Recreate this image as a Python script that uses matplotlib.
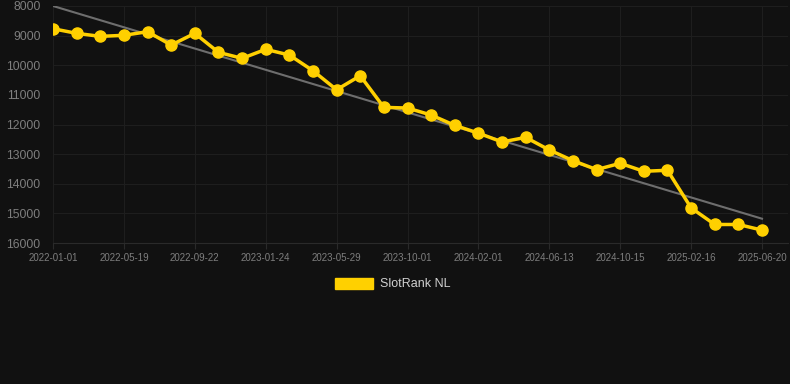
import matplotlib.pyplot as plt
from matplotlib.patches import Patch

dates = ['2022-01-01', '2022-05-19', '2022-09-22', '2023-01-24', '2023-05-29', '2023-10-01',
         '2024-02-01', '2024-06-13', '2024-10-15', '2025-02-16', '2025-06-20']
ranks = [8767, 8923, 9025, 8990, 8867, 9318, 8923, 9564, 9767, 9463, 9655,
         10185, 10827, 10354, 11422, 11444, 11680, 12030, 12290, 12590, 12435,
         12860, 13220, 13522, 13310, 13580, 13545, 14815, 15375, 15375, 15565]
trend = [8000, 15180]
y_ticks = [8000, 9000, 10000, 11000, 12000, 13000, 14000, 15000, 16000]

bg = '#111111'
gold = '#ffd000'

fig = plt.figure(figsize=(7.9, 3.84), dpi=100, facecolor=bg)
ax = fig.add_axes([53 / 790, 1 - 243 / 384, 735 / 790, 237 / 384], facecolor=bg)
plt.rcParams['font.family'] = ['Liberation Sans', 'DejaVu Sans']

x = list(range(len(ranks)))
ax.plot([x[0], x[-1]], trend, color='#6e6e6e', lw=1.5, zorder=2)
ax.plot(x, ranks, color=gold, lw=2.5, marker='o', ms=8, zorder=3)

ax.set_xlim(0, 31.1)
ax.set_ylim(16000, 8000)
ax.set_yticks(y_ticks)
ax.set_yticklabels([str(v) for v in y_ticks], fontsize=8.8, color='#7e7e7e',
                   family='Liberation Sans')
ax.set_xticks(x[::3])
ax.set_xticklabels(dates, fontsize=7, color='#7e7e7e', family='Liberation Sans')
ax.tick_params(axis='y', length=0, pad=9)
ax.tick_params(axis='x', length=4, color='#2a2a2a', pad=3)
ax.grid(True, color='#1e1e1e', lw=0.8)
ax.set_axisbelow(True)
for s in ax.spines.values():
    s.set_visible(False)
ax.spines['bottom'].set_visible(True)
ax.spines['bottom'].set_color('#2a2a2a')
ax.spines['bottom'].set_linewidth(0.8)

fig.legend(handles=[Patch(facecolor=gold, edgecolor=gold)], labels=['SlotRank NL'],
           loc='center', bbox_to_anchor=(0.497, 1 - 284 / 384), frameon=False,
           handlelength=3.1, handleheight=1.0, handletextpad=0.55,
           prop={'family': 'Liberation Sans', 'size': 9}, labelcolor='#d0d0d0')

fig.savefig('out.png', dpi=100, facecolor=bg)
